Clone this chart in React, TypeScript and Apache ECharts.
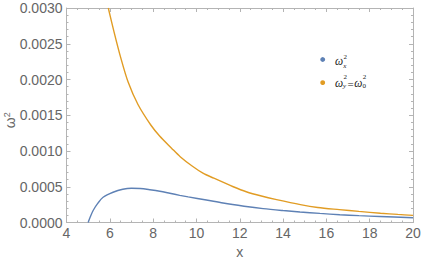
import React, { useEffect, useRef } from "react";
import * as echarts from "echarts";

const blueX = [5.0, 5.1, 5.23, 5.45, 5.69, 6.15, 6.6, 7.0, 7.4, 7.85, 8.31, 8.77, 9.23, 9.62, 10.46, 11.23, 12.2, 13.08, 14.0, 14.78, 15.7, 16.62, 17.5, 18.47, 20];
const blueY = [0, 0.00008, 0.000168, 0.00027, 0.000353, 0.000423, 0.000465, 0.000479, 0.000475, 0.000458, 0.000437, 0.000409, 0.00038, 0.000358, 0.000315, 0.000272, 0.000228, 0.000194, 0.000167, 0.000147, 0.000127, 0.000109, 0.000096, 0.000084, 0.0000656];

const orangeX = [5.93, 6.2, 6.5, 6.85, 7.3, 7.9, 8.3, 8.85, 9.25, 9.8, 10.3, 10.8, 11.7, 12.3, 13.0, 13.7, 14.8, 15.6, 16.6, 17.5, 18.5, 19.3, 20];
const orangeY = [0.003, 0.00266, 0.00231, 0.00196, 0.00165, 0.00136, 0.00121, 0.00104, 0.00092, 0.00079, 0.00069, 0.00062, 0.0005, 0.00043, 0.00037, 0.00032, 0.00025, 0.00021, 0.00018, 0.000155, 0.00013, 0.000113, 0.0001];

const X_MIN = 4, X_MAX = 20, X_STEP = 2;
const Y_MIN = 0, Y_MAX = 0.003, Y_STEP = 0.0005;

const BLUE = "#5E81B5";
const ORANGE = "#E19C24";
const FRAME = "#b4b4b4";
const LABEL = "#666666";

export default function App() {
  const ref = useRef<HTMLDivElement>(null);
  useEffect(() => {
    if (!ref.current) return;
    const chart = echarts.init(ref.current, null, { renderer: "svg" });
    const pairs = (xs: number[], ys: number[]) => xs.map((x, i) => [x, ys[i]]);
    const axisCommon = {
      axisLine: { show: true, onZero: false, lineStyle: { color: FRAME, width: 1 } },
      axisTick: { show: true, inside: true, length: 4, lineStyle: { color: FRAME } },
      minorTick: { show: true, length: 2, lineStyle: { color: FRAME } },
      splitLine: { show: false },
      minorSplitLine: { show: false },
    };
    const serif = "'Liberation Serif', 'DejaVu Serif', serif";
    const sans = "'Liberation Sans', Arial, sans-serif";
    const t = (text: string, x: number, y: number, size: number, italic = true) => ({
      type: "text",
      x,
      y,
      style: {
        text,
        fill: "#222",
        fontSize: size,
        fontStyle: italic ? "italic" : "normal",
        fontFamily: serif,
        verticalAlign: "middle",
        align: "left",
      },
    });
    chart.setOption({
      animation: false,
      backgroundColor: "#ffffff",
      grid: { left: 66.5, right: 9, top: 8, bottom: 39.5, containLabel: false, outerBoundsMode: "none" },
      xAxis: [
        {
          type: "value",
          min: X_MIN,
          max: X_MAX,
          interval: X_STEP,
          position: "bottom",
          ...axisCommon,
          minorTick: { ...axisCommon.minorTick, splitNumber: 4 },
          axisLabel: { color: LABEL, fontSize: 14, margin: 3, fontFamily: sans },
          name: "x",
          nameLocation: "middle",
          nameGap: 22,
          nameMoveOverlap: false,
          nameTextStyle: { color: LABEL, fontSize: 14, fontFamily: sans },
        },
        {
          type: "value",
          min: X_MIN,
          max: X_MAX,
          interval: X_STEP,
          position: "top",
          ...axisCommon,
          minorTick: { ...axisCommon.minorTick, splitNumber: 4 },
          axisLabel: { show: false },
        },
      ],
      yAxis: [
        {
          type: "value",
          min: Y_MIN,
          max: Y_MAX,
          interval: Y_STEP,
          position: "left",
          ...axisCommon,
          minorTick: { ...axisCommon.minorTick, splitNumber: 5 },
          axisLabel: {
            color: LABEL,
            fontSize: 14,
            margin: 4,
            fontFamily: sans,
            formatter: (v: number) => v.toFixed(4),
          },
          name: "{w|ω}{s|2}",
          nameLocation: "middle",
          nameRotate: 90,
          nameGap: 48.5,
          nameMoveOverlap: false,
          nameTextStyle: {
            color: LABEL,
            padding: [0, 10, 0, 0],
            rich: {
              w: { fontSize: 14, color: LABEL, fontFamily: sans, lineHeight: 16 },
              s: { fontSize: 9, color: LABEL, verticalAlign: "top", fontFamily: sans, lineHeight: 16 },
            },
          },
        },
        {
          type: "value",
          min: Y_MIN,
          max: Y_MAX,
          interval: Y_STEP,
          position: "right",
          ...axisCommon,
          minorTick: { ...axisCommon.minorTick, splitNumber: 5 },
          axisLabel: { show: false },
        },
      ],
      series: [
        {
          type: "line",
          name: "wx",
          data: pairs(blueX, blueY),
          smooth: 0.3,
          showSymbol: false,
          clip: true,
          lineStyle: { color: BLUE, width: 1.4 },
          itemStyle: { color: BLUE },
        },
        {
          type: "line",
          name: "wy",
          data: pairs(orangeX, orangeY),
          smooth: 0.3,
          showSymbol: false,
          clip: true,
          lineStyle: { color: ORANGE, width: 1.4 },
          itemStyle: { color: ORANGE },
        },
      ],
      graphic: [
        { type: "circle", shape: { cx: 322.7, cy: 59.5, r: 2.4 }, style: { fill: BLUE } },
        t("ω", 335, 61, 11.5),
        t("2", 343.4, 56.5, 7, false),
        t("x", 343.2, 65.5, 7),
        { type: "circle", shape: { cx: 322.7, cy: 82.7, r: 2.4 }, style: { fill: ORANGE } },
        t("ω", 335, 83.2, 11.5),
        t("2", 343.4, 77.2, 7, false),
        t("y", 343.0, 86.4, 7),
        t("=", 347.6, 83.5, 11, false),
        t("ω", 354.2, 83.2, 11.5),
        t("2", 362.8, 77.2, 7, false),
        t("0", 362.6, 85.8, 7, false),
      ],
    });
    return () => chart.dispose();
  }, []);
  return <div ref={ref} style={{ position: "fixed", left: 0, top: 0, width: 422, height: 262 }} />;
}
